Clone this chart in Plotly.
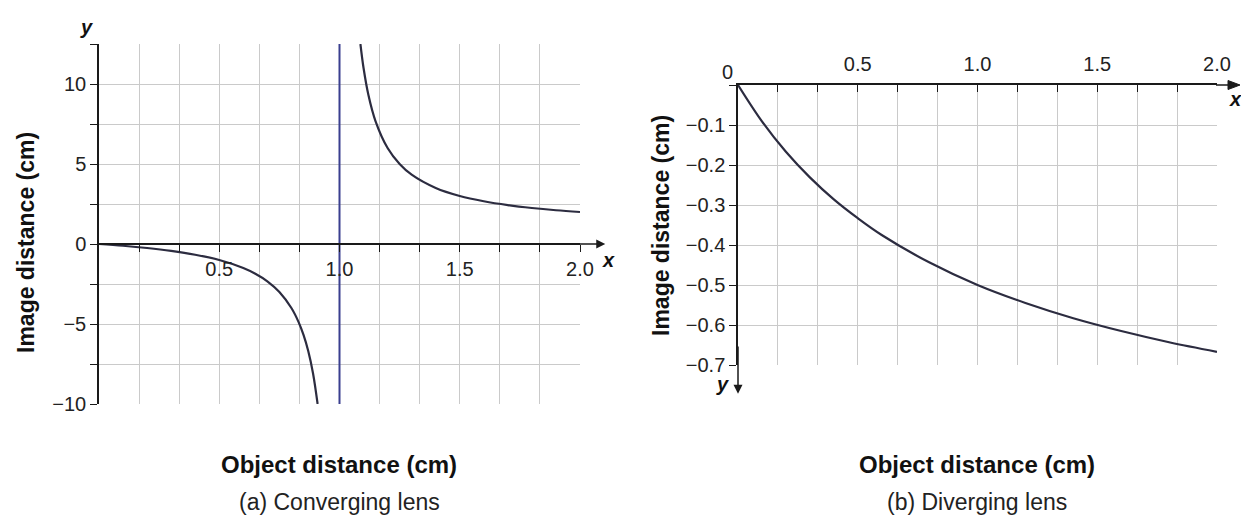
import plotly.graph_objects as go

W, H = 1241, 517

# ---------------- data ----------------
# (a) converging lens, branch left of focal point
conv_left_x = [0.0, 0.1, 0.2, 0.3, 0.4, 0.5, 0.6, 0.65, 0.7, 0.75, 0.8, 0.83, 0.85, 0.87, 0.89, 0.909]
conv_left_y = [0.0, -0.11, -0.25, -0.43, -0.67, -1.0, -1.5, -1.86, -2.33, -3.0, -4.0, -4.88, -5.67, -6.69, -8.09, -10.0]
# (a) converging lens, branch right of focal point
conv_right_x = [1.087, 1.1, 1.12, 1.15, 1.2, 1.25, 1.3, 1.4, 1.5, 1.6, 1.7, 1.8, 1.9, 2.0]
conv_right_y = [12.5, 11.0, 9.33, 7.67, 6.0, 5.0, 4.33, 3.5, 3.0, 2.67, 2.43, 2.25, 2.11, 2.0]
# (a) focal-point asymptote
asym_x = [1.0, 1.0]
asym_y = [-10.0, 12.5]
# (b) diverging lens
div_x = [0.0, 0.1, 0.2, 0.3, 0.4, 0.5, 0.6, 0.8, 1.0, 1.2, 1.4, 1.6, 1.8, 2.0]
div_y = [0.0, -0.091, -0.167, -0.231, -0.286, -0.333, -0.375, -0.444, -0.5, -0.545, -0.583, -0.615, -0.643, -0.667]

# tick definitions
a_xticks = [i / 6 for i in range(1, 13)]
a_xtext = ["", "", "0.5", "", "", "1.0", "", "", "1.5", "", "", "2.0"]
a_yticks = [-10, -7.5, -5, -2.5, 0, 2.5, 5, 7.5, 10, 12.5]
a_ytext = ["−10", "", "−5", "", "0", "", "5", "", "10", ""]
b_xticks = [i / 6 for i in range(1, 13)]
b_xtext = ["", "", "0.5", "", "", "1.0", "", "", "1.5", "", "", "2.0"]
b_yticks = [0, -0.1, -0.2, -0.3, -0.4, -0.5, -0.6, -0.7]
b_ytext = ["", "−0.1", "−0.2", "−0.3", "−0.4", "−0.5", "−0.6", "−0.7"]

CURVE = "#2c2c40"
BLUE = "#3a3f8f"
AXIS = "#1a1a1a"
GRID = "#cacaca"
FONT = "Liberation Sans, Arial, sans-serif"


def px(x):
    return x / W


def py(y):
    return 1 - y / H


fig = go.Figure()
fig.add_trace(go.Scatter(x=asym_x, y=asym_y, mode="lines", line=dict(color=BLUE, width=2),
                         xaxis="x", yaxis="y", showlegend=False, hoverinfo="skip"))
fig.add_trace(go.Scatter(x=conv_left_x, y=conv_left_y, mode="lines",
                         line=dict(color=CURVE, width=2.2, shape="spline"),
                         xaxis="x", yaxis="y", showlegend=False))
fig.add_trace(go.Scatter(x=conv_right_x, y=conv_right_y, mode="lines",
                         line=dict(color=CURVE, width=2.2, shape="spline"),
                         xaxis="x", yaxis="y", showlegend=False))
fig.add_trace(go.Scatter(x=div_x, y=div_y, mode="lines",
                         line=dict(color=CURVE, width=2.2, shape="spline"),
                         xaxis="x2", yaxis="y2", showlegend=False))

tickfont = dict(family=FONT, size=20, color="#222222")

common = dict(tickwidth=1.3, tickcolor=AXIS, showline=True, linecolor=AXIS, linewidth=1.5,
              showgrid=True, gridcolor=GRID, gridwidth=1, zeroline=False, automargin=False,
              tickfont=tickfont, fixedrange=True)

fig.update_layout(
    width=W, height=H, autosize=False,
    margin=dict(l=0, r=0, t=0, b=0, pad=0),
    paper_bgcolor="white", plot_bgcolor="white",
    showlegend=False,
    xaxis=dict(domain=[px(99), px(580)], range=[0, 2], anchor="free", position=py(244),
               tickvals=a_xticks, ticktext=a_xtext, ticks="outside", ticklen=7, **common),
    yaxis=dict(domain=[py(404), py(44)], range=[-10, 12.5], anchor="x",
               tickvals=a_yticks, ticktext=a_ytext, ticks="outside", ticklen=7, **common),
    xaxis2=dict(domain=[px(738), px(1217)], range=[0, 2], anchor="y2", side="top",
                tickvals=b_xticks, ticktext=b_xtext, ticks="inside", ticklen=7,
                ticklabelstandoff=4, **common),
    yaxis2=dict(domain=[py(365), py(85)], range=[-0.7, 0], anchor="x2",
                tickvals=b_yticks, ticktext=b_ytext, ticks="outside", ticklen=7, **common),
)

# right-hand x-axis arrow of (b), drawn as shapes in paper space
shapes = [
    dict(type="line", xref="paper", yref="paper", x0=px(1216), y0=py(85), x1=px(1232), y1=py(85),
         line=dict(color=AXIS, width=1.5)),
    dict(type="path", xref="paper", yref="paper",
         path=f"M {px(1240)},{py(85)} L {px(1228)},{py(80.5)} L {px(1228)},{py(89.5)} Z",
         fillcolor=AXIS, line=dict(color=AXIS, width=1)),
]
fig.update_layout(shapes=shapes)

ann = []
arrow = dict(showarrow=True, arrowhead=2, arrowsize=1.2, arrowwidth=1.5, arrowcolor=AXIS, text="")
# axis arrows
ann.append(dict(x=0, y=13.4, ax=0, ay=-12, xref="x", yref="y", axref="x", ayref="y", **arrow))
ann.append(dict(x=2.105, y=0, ax=1.9, ay=0, xref="x", yref="y", axref="x", ayref="y", **arrow))
ann.append(dict(x=0, y=-0.772, ax=0, ay=-0.65, xref="x2", yref="y2", axref="x2", ayref="y2", **arrow))


def label(x, y, text, font, **kw):
    d = dict(x=px(x), y=py(y), xref="paper", yref="paper", text=text, showarrow=False,
             xanchor="center", yanchor="middle", font=font)
    d.update(kw)
    ann.append(d)


italic = dict(family=FONT, size=20, color="#111111")
label(86, 27, "<b><i>y</i></b>", italic)
label(608, 260, "<b><i>x</i></b>", italic)
label(1235, 99, "<b><i>x</i></b>", italic)
label(722, 384, "<b><i>y</i></b>", italic)
# "0" at origin of (b)
label(727, 72, "0", tickfont)

titlefont = dict(family=FONT, size=24, color="#111111")
ytitlefont = dict(family=FONT, size=23, color="#111111")
capfont = dict(family=FONT, size=23, color="#222222")
for cx, cap in [(339, "(a) Converging lens"), (977, "(b) Diverging lens")]:
    label(cx, 464, "<b>Object distance (cm)</b>", titlefont)
    label(cx, 502, cap, capfont)
label(26, 243, "<b>Image distance (cm)</b>", ytitlefont, textangle=-90)
label(661, 226, "<b>Image distance (cm)</b>", ytitlefont, textangle=-90)

fig.update_layout(annotations=ann)
fig.write_html("out.html", config={"displayModeBar": False, "responsive": False},
               post_script="document.body.style.margin='0';document.body.style.overflow='hidden';")
